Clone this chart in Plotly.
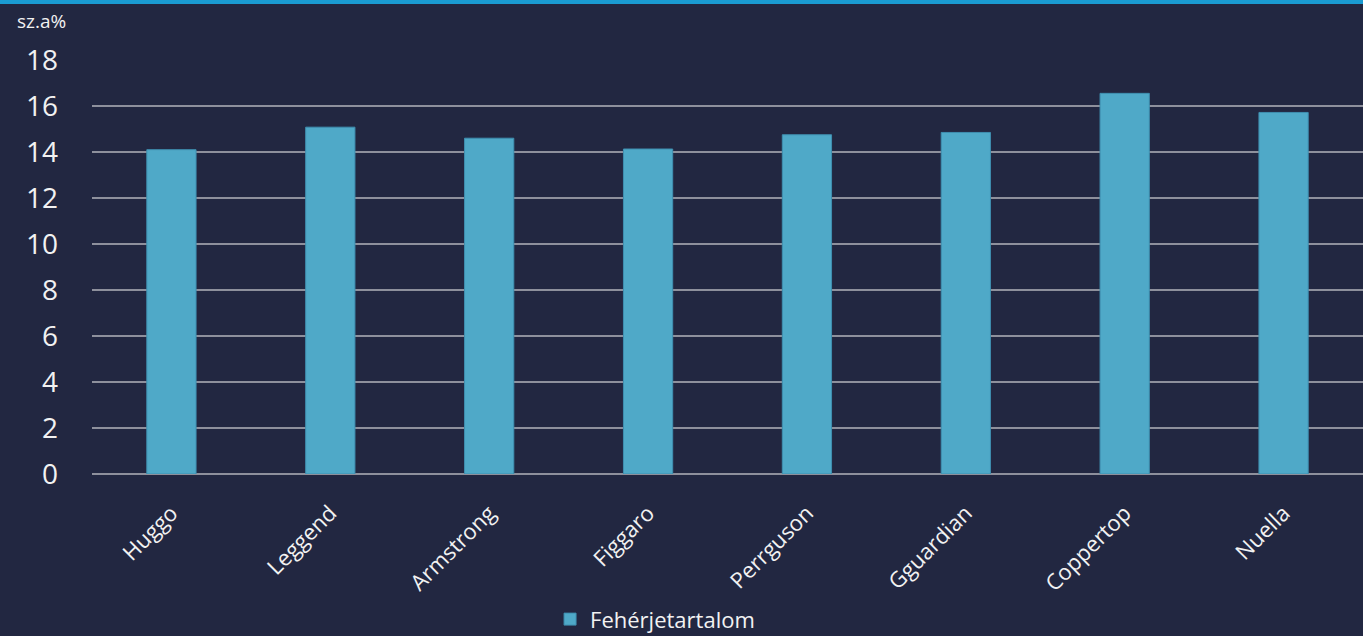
import plotly.graph_objects as go

categories = ["Huggo", "Leggend", "Armstrong", "Figgaro", "Perrguson", "Gguardian", "Coppertop", "Nuella"]
values = [14.1, 15.08, 14.6, 14.13, 14.75, 14.85, 16.55, 15.72]
series_name = "Fehérjetartalom"
y_ticks = [0, 2, 4, 6, 8, 10, 12, 14, 16, 18]
unit_label = "sz.a%"

BG = "#222741"
BAR = "#4fa9c8"
GRID = "#8e909c"
TXT = "#f2f2f2"
FONT = "Open Sans"

fig = go.Figure()
fig.add_trace(go.Bar(
    x=categories, y=values, name=series_name,
    marker=dict(color=BAR, line=dict(color="#3f8fb0", width=1)),
    showlegend=True,
))

fig.update_layout(
    width=1363, height=636, autosize=False,
    paper_bgcolor=BG, plot_bgcolor=BG,
    margin=dict(l=92, r=0, t=60, b=162, autoexpand=False),
    bargap=0.69,
    font=dict(family=FONT, color=TXT),
    showlegend=True,
    legend=dict(orientation="h", x=0.443, xanchor="center", y=-0.351, yanchor="middle",
                font=dict(size=22, color=TXT, family=FONT), bgcolor="rgba(0,0,0,0)",
                itemwidth=30, borderwidth=0, tracegroupgap=0),
    xaxis=dict(tickangle=-45, tickfont=dict(size=22, color=TXT, family=FONT), automargin=False,
               showgrid=False, showline=False, ticks="", ticklabelstandoff=21),
    yaxis=dict(range=[0, 18], tickvals=y_ticks, tickfont=dict(size=28, color=TXT, family=FONT),
               automargin=False,
               showgrid=True, gridcolor=GRID, gridwidth=1.5, zeroline=True, zerolinecolor=GRID,
               zerolinewidth=1.5, showline=False, ticks="", ticklabelstandoff=33),
    annotations=[dict(text=unit_label, xref="paper", yref="paper", x=-0.040, y=1 + 39 / 414,
                      xanchor="center", yanchor="middle", showarrow=False,
                      font=dict(size=19, color=TXT, family=FONT))],
    shapes=[dict(type="rect", xref="paper", yref="paper", x0=-0.08, x1=1.01,
                 y0=1 + 56 / 414, y1=1 + 62 / 414, fillcolor="#1a9bd2", line=dict(width=0), layer="above")],
)

fig.write_html("out.html", config={"displayModeBar": False},
               post_script="document.body.style.margin='0';document.body.style.overflow='hidden';")
